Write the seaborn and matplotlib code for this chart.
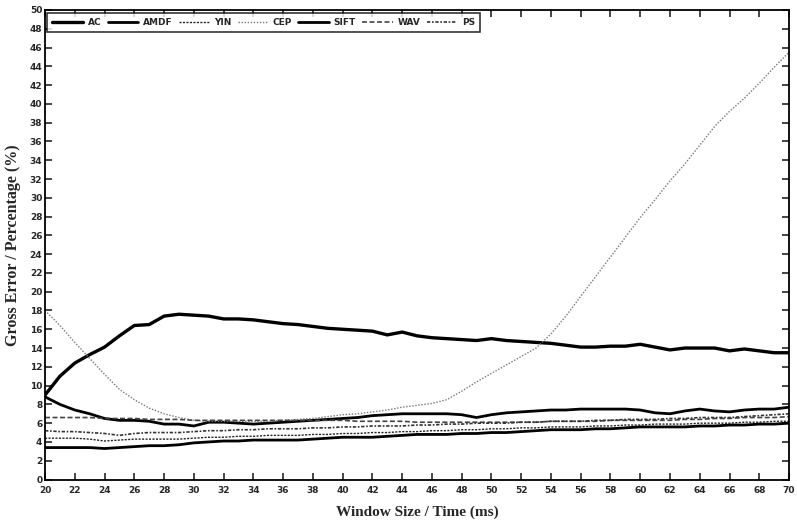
import numpy as np
import pandas as pd
import matplotlib
matplotlib.use("Agg")
import matplotlib.pyplot as plt
import seaborn as sns

# Window sizes (ms)
window_ms = list(range(20, 71))

# Gross error (%) per pitch estimator
ac = [9.0, 11.0, 12.4, 13.3, 14.1, 15.3, 16.4, 16.5, 17.4, 17.6, 17.5, 17.4, 17.1, 17.1, 17.0, 16.8,
      16.6, 16.5, 16.3, 16.1, 16.0, 15.9, 15.8, 15.4, 15.7, 15.3, 15.1, 15.0, 14.9, 14.8, 15.0, 14.8,
      14.7, 14.6, 14.5, 14.3, 14.1, 14.1, 14.2, 14.2, 14.4, 14.1, 13.8, 14.0, 14.0, 14.0, 13.7, 13.9,
      13.7, 13.5, 13.5]
amdf = [8.8, 8.0, 7.4, 7.0, 6.5, 6.3, 6.3, 6.2, 5.9, 5.9, 5.7, 6.1, 6.1, 6.0, 5.9, 6.0,
        6.1, 6.2, 6.3, 6.4, 6.5, 6.6, 6.8, 6.9, 7.0, 7.0, 7.0, 7.0, 6.9, 6.6, 6.9, 7.1,
        7.2, 7.3, 7.4, 7.4, 7.5, 7.5, 7.5, 7.5, 7.4, 7.1, 7.0, 7.3, 7.5, 7.3, 7.2, 7.4,
        7.5, 7.5, 7.7]
yin = [4.4, 4.4, 4.4, 4.3, 4.1, 4.2, 4.3, 4.3, 4.3, 4.3, 4.4, 4.5, 4.5, 4.6, 4.6, 4.7,
       4.7, 4.7, 4.8, 4.8, 4.9, 4.9, 5.0, 5.0, 5.1, 5.1, 5.2, 5.2, 5.3, 5.3, 5.4, 5.4,
       5.5, 5.5, 5.6, 5.6, 5.6, 5.7, 5.7, 5.8, 5.8, 5.9, 5.9, 5.9, 6.0, 6.0, 6.0, 6.1,
       6.1, 6.2, 6.2]
cep = [18.0, 16.4, 14.6, 12.9, 11.2, 9.6, 8.5, 7.6, 7.0, 6.6, 6.3, 6.2, 6.2, 6.2, 6.2, 6.2,
       6.3, 6.4, 6.5, 6.7, 6.9, 7.0, 7.2, 7.4, 7.7, 7.9, 8.1, 8.5, 9.4, 10.4, 11.3, 12.2,
       13.1, 14.0, 15.5, 17.4, 19.5, 21.6, 23.7, 25.8, 27.9, 29.8, 31.8, 33.6, 35.6, 37.6, 39.2, 40.6,
       42.2, 43.9, 45.5]
sift = [3.4, 3.4, 3.4, 3.4, 3.3, 3.4, 3.5, 3.6, 3.6, 3.7, 3.9, 4.0, 4.1, 4.1, 4.2, 4.2,
        4.2, 4.2, 4.3, 4.4, 4.5, 4.5, 4.5, 4.6, 4.7, 4.8, 4.8, 4.8, 4.9, 4.9, 5.0, 5.0,
        5.1, 5.2, 5.3, 5.3, 5.3, 5.4, 5.4, 5.5, 5.6, 5.6, 5.6, 5.6, 5.7, 5.7, 5.8, 5.8,
        5.9, 5.9, 6.0]
wav = [6.6, 6.6, 6.6, 6.6, 6.5, 6.5, 6.5, 6.4, 6.4, 6.4, 6.3, 6.3, 6.3, 6.3, 6.3, 6.3,
       6.3, 6.3, 6.3, 6.3, 6.3, 6.2, 6.2, 6.2, 6.2, 6.1, 6.1, 6.1, 6.1, 6.1, 6.1, 6.1,
       6.1, 6.1, 6.2, 6.2, 6.2, 6.2, 6.3, 6.3, 6.3, 6.3, 6.3, 6.4, 6.4, 6.5, 6.5, 6.6,
       6.6, 6.6, 6.7]
ps = [5.2, 5.1, 5.1, 5.0, 4.9, 4.7, 4.9, 5.0, 5.0, 5.0, 5.1, 5.2, 5.2, 5.3, 5.3, 5.4,
      5.4, 5.4, 5.5, 5.5, 5.6, 5.6, 5.7, 5.7, 5.7, 5.8, 5.8, 5.9, 5.9, 6.0, 6.0, 6.0,
      6.1, 6.1, 6.2, 6.2, 6.2, 6.3, 6.3, 6.4, 6.4, 6.4, 6.5, 6.5, 6.6, 6.6, 6.6, 6.7,
      6.8, 6.9, 7.0]

methods = ["AC", "AMDF", "YIN", "CEP", "SIFT", "WAV", "PS"]
series = [ac, amdf, yin, cep, sift, wav, ps]

df = pd.DataFrame({
    "window": np.tile(window_ms, len(methods)),
    "error": np.concatenate(series),
    "method": np.repeat(methods, len(window_ms)),
})

sns.set_style("ticks")
plt.rcParams["font.family"] = ["DejaVu Sans"]

styles = {
    "AC":   dict(color="black", lw=2.4, ls="-"),
    "AMDF": dict(color="black", lw=2.0, ls="-"),
    "YIN":  dict(color="#222222", lw=1.0, ls=(0, (1.5, 1))),
    "CEP":  dict(color="#777777", lw=1.0, ls=(0, (1, 1.2))),
    "SIFT": dict(color="black", lw=2.0, ls="-"),
    "WAV":  dict(color="#444444", lw=1.2, ls=(0, (3, 1.5))),
    "PS":   dict(color="#333333", lw=1.2, ls=(0, (2, 1, 1, 1))),
}

fig = plt.figure(figsize=(7.97, 5.26), dpi=100)
ax = fig.add_axes([0.0565, 0.0884, 0.9335, 0.8926])

for m in methods:
    st = styles[m]
    sns.lineplot(data=df[df["method"] == m], x="window", y="error", ax=ax,
                 color=st["color"], linewidth=st["lw"], linestyle=st["ls"],
                 label=m, legend=False)

ax.set_xlim(20, 70)
ax.set_ylim(0, 50)
ax.set_xticks(range(20, 71, 2))
ax.set_yticks(range(0, 51, 2))
ax.tick_params(direction="in", top=True, right=True, length=5, width=1.2,
               labelsize=6.5)
ax.tick_params(axis="x", pad=5)
ax.tick_params(axis="y", pad=2)
for lab in ax.get_xticklabels() + ax.get_yticklabels():
    lab.set_fontweight("bold")
for sp in ax.spines.values():
    sp.set_linewidth(1.3)
    sp.set_color("black")

ax.set_xlabel("Window Size / Time (ms)", family=["Liberation Serif"],
              fontweight="bold", fontsize=11, labelpad=7)
ax.set_ylabel("Gross Error / Percentage (%)", family=["Liberation Serif"],
              fontweight="bold", fontsize=11.5, labelpad=6)

leg = ax.legend(loc="upper left", ncol=7, bbox_to_anchor=(0.002, 0.995),
                frameon=True, fancybox=False, edgecolor="black",
                prop={"size": 6.5, "weight": "bold"}, handlelength=3.4,
                handletextpad=0.5, columnspacing=0.7, borderpad=0.55,
                borderaxespad=0.1)
leg.get_frame().set_linewidth(1.2)

fig.savefig("out.png", dpi=100)
